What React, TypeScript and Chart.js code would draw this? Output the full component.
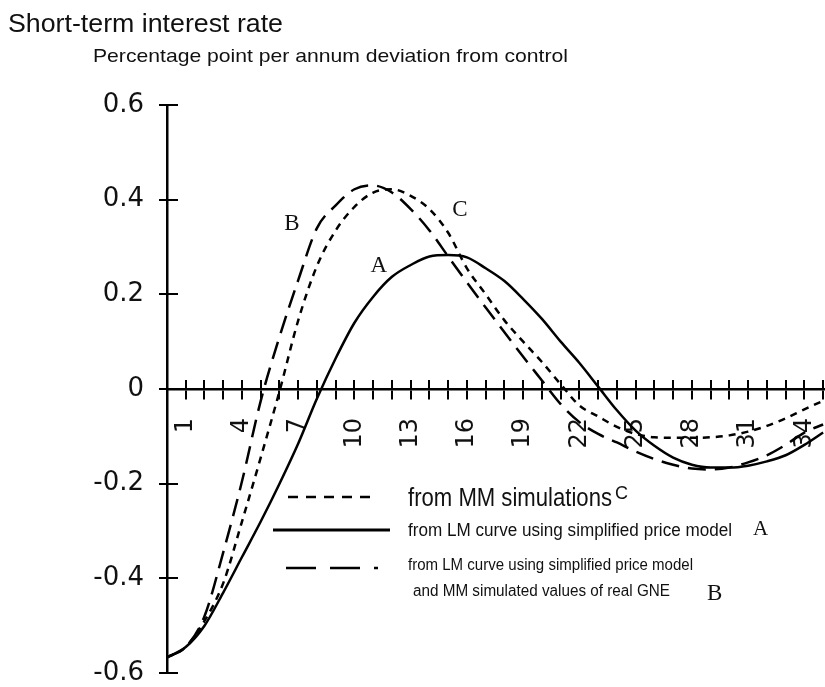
import React, { useEffect, useRef } from "react";
import { Chart, registerables } from "chart.js";

Chart.register(...registerables);

// ---------- data ----------
const periods = [0, 1, 2, 3, 4, 5, 6, 7, 8, 9, 10, 11, 12, 13, 14, 15, 16, 17, 18, 19, 20, 21, 22, 23, 24, 25, 26, 27, 28, 29, 30, 31, 32, 33, 34, 35];

// A: from LM curve using simplified price model (solid)
const seriesA = [-0.567, -0.545, -0.5, -0.43, -0.355, -0.28, -0.2, -0.115, -0.02, 0.065, 0.14, 0.195, 0.237, 0.262, 0.28, 0.283, 0.278, 0.255, 0.228, 0.19, 0.148, 0.1, 0.055, 0.005, -0.045, -0.088, -0.12, -0.145, -0.16, -0.166, -0.166, -0.162, -0.153, -0.14, -0.118, -0.092];

// B: from LM curve using simplified price model and MM simulated values of real GNE (long dash)
const seriesB = [-0.567, -0.545, -0.48, -0.345, -0.195, -0.025, 0.11, 0.23, 0.34, 0.388, 0.422, 0.43, 0.415, 0.38, 0.335, 0.28, 0.225, 0.172, 0.12, 0.068, 0.018, -0.032, -0.07, -0.095, -0.113, -0.132, -0.148, -0.16, -0.168, -0.17, -0.166, -0.155, -0.14, -0.118, -0.092, -0.075];

// C: from MM simulations (short dash)
const seriesC = [-0.567, -0.545, -0.49, -0.41, -0.28, -0.145, -0.005, 0.145, 0.26, 0.335, 0.385, 0.415, 0.422, 0.408, 0.38, 0.33, 0.255, 0.2, 0.145, 0.1, 0.057, 0.01, -0.035, -0.058, -0.08, -0.095, -0.102, -0.103, -0.103, -0.102, -0.098, -0.09, -0.078, -0.062, -0.043, -0.025];

const yTickValues = [-0.6, -0.4, -0.2, 0, 0.2, 0.4, 0.6];
const xTickValues = [1, 2, 3, 4, 5, 6, 7, 8, 9, 10, 11, 12, 13, 14, 15, 16, 17, 18, 19, 20, 21, 22, 23, 24, 25, 26, 27, 28, 29, 30, 31, 32, 33, 34, 35];
const xLabelValues = [1, 4, 7, 10, 13, 16, 19, 22, 25, 28, 31, 34];

const titleText = "Short-term interest rate";
const subtitleText = "Percentage point per annum deviation from control";
const legendTextC = "from MM simulations";
const legendTextA = "from LM curve using simplified price model";
const legendTextB1 = "from LM curve using simplified price model";
const legendTextB2 = "and MM simulated values of real GNE";

// curve tags, placed in data coordinates [period, value]
const curveTags: [string, number, number][] = [
  ["B", 6.67, 0.348],
  ["C", 15.63, 0.378],
  ["A", 11.3, 0.26],
];

const SANS = '"Liberation Sans", Arial, Helvetica, sans-serif';
const SERIF = '"Liberation Serif", "Times New Roman", serif';

function fitText(ctx: CanvasRenderingContext2D, text: string, x: number, y: number, font: string, width?: number) {
  ctx.save();
  ctx.font = font;
  ctx.textAlign = "left";
  ctx.textBaseline = "alphabetic";
  const w = ctx.measureText(text).width;
  const s = width ? width / w : 1;
  ctx.translate(x, y);
  ctx.scale(s, 1);
  ctx.fillText(text, 0, 0);
  ctx.restore();
}

const decorPlugin = {
  id: "decor",
  afterDraw(chart: any) {
    const ctx: CanvasRenderingContext2D = chart.ctx;
    const xs = chart.scales.x;
    const ys = chart.scales.y;
    ctx.save();
    ctx.fillStyle = "#111";
    ctx.strokeStyle = "#000";

    // inner halves of the crossing tick marks
    const y0 = ys.getPixelForValue(0);
    const xAxis = chart.chartArea.left;
    ctx.lineWidth = 2;
    ctx.beginPath();
    xTickValues.forEach((v) => {
      const px = Math.round(xs.getPixelForValue(v));
      ctx.moveTo(px, y0);
      ctx.lineTo(px, y0 - 9);
    });
    yTickValues.forEach((v) => {
      const py = Math.round(ys.getPixelForValue(v));
      ctx.moveTo(xAxis, py);
      ctx.lineTo(xAxis + 11, py);
    });
    ctx.stroke();

    // titles
    fitText(ctx, titleText, 8, 32, `25px ${SANS}`, 275);
    fitText(ctx, subtitleText, 93, 62, `19px ${SANS}`, 475);

    // curve tags
    curveTags.forEach(([t, px, v]) => {
      ctx.save();
      ctx.font = `23px ${SERIF}`;
      ctx.textAlign = "center";
      ctx.textBaseline = "middle";
      ctx.fillText(t, xs.getPixelForValue(px), ys.getPixelForValue(v));
      ctx.restore();
    });

    // legend
    ctx.lineWidth = 2.5;
    ctx.setLineDash([10, 8]);
    ctx.beginPath();
    ctx.moveTo(288, 497);
    ctx.lineTo(378, 497);
    ctx.stroke();

    ctx.setLineDash([]);
    ctx.lineWidth = 3;
    ctx.beginPath();
    ctx.moveTo(273, 530);
    ctx.lineTo(390, 530);
    ctx.stroke();

    ctx.lineWidth = 2.5;
    ctx.setLineDash([30, 14]);
    ctx.beginPath();
    ctx.moveTo(286, 568);
    ctx.lineTo(378, 568);
    ctx.stroke();
    ctx.setLineDash([]);

    fitText(ctx, legendTextC, 408, 506, `26px ${SANS}`, 204);
    fitText(ctx, "C", 615, 499, `18px ${SANS}`);
    fitText(ctx, legendTextA, 408, 536, `18px ${SANS}`, 324);
    fitText(ctx, "A", 753, 535, `21px ${SERIF}`);
    fitText(ctx, legendTextB1, 408, 570, `16px ${SANS}`, 285);
    fitText(ctx, legendTextB2, 413, 596, `16px ${SANS}`, 257);
    fitText(ctx, "B", 707, 600, `23px ${SERIF}`);

    ctx.restore();
  },
};

function toPoints(values: number[]) {
  return periods.map((p, i) => ({ x: p, y: values[i] }));
}

export default function App() {
  const canvasRef = useRef<HTMLCanvasElement | null>(null);

  useEffect(() => {
    const canvas = canvasRef.current;
    if (!canvas) return;
    const chart = new Chart(canvas, {
      type: "line",
      data: {
        datasets: [
          {
            label: "from MM simulations (C)",
            data: toPoints(seriesC),
            borderColor: "#000",
            borderWidth: 2.5,
            borderDash: [7, 6],
            pointRadius: 0,
            cubicInterpolationMode: "monotone",
            fill: false,
          },
          {
            label: "from LM curve using simplified price model (A)",
            data: toPoints(seriesA),
            borderColor: "#000",
            borderWidth: 2.5,
            pointRadius: 0,
            cubicInterpolationMode: "monotone",
            fill: false,
          },
          {
            label: "from LM curve using simplified price model and MM simulated values of real GNE (B)",
            data: toPoints(seriesB),
            borderColor: "#000",
            borderWidth: 2.5,
            borderDash: [18, 9],
            pointRadius: 0,
            cubicInterpolationMode: "monotone",
            fill: false,
          },
        ],
      },
      options: {
        animation: false,
        responsive: false,
        devicePixelRatio: 1,
        layout: { padding: { top: 105, bottom: 14, left: 0, right: 0 } },
        plugins: {
          legend: { display: false },
          title: { display: false },
          tooltip: { enabled: false },
        },
        scales: {
          x: {
            type: "linear",
            min: 0,
            max: 35.1,
            position: { y: 0 } as any,
            afterBuildTicks: (s: any) => {
              s.ticks = xTickValues.map((v) => ({ value: v }));
            },
            afterFit: (s: any) => {
              s.paddingLeft = 0;
              s.paddingRight = 0;
              s.paddingTop = 0;
              s.paddingBottom = 0;
            },
            ticks: {
              autoSkip: false,
              minRotation: 90,
              maxRotation: 90,
              padding: 20,
              color: "#111",
              font: { family: '"DejaVu Sans", sans-serif', size: 24 },
              callback: (v: any) => (xLabelValues.includes(Number(v)) ? String(v) : ""),
            },
            grid: { drawOnChartArea: false, drawTicks: true, tickLength: 9, color: "#000", lineWidth: 2 },
            border: { display: true, color: "#000", width: 2.5 },
          },
          y: {
            type: "linear",
            min: -0.6,
            max: 0.6,
            afterBuildTicks: (s: any) => {
              s.ticks = yTickValues.map((v) => ({ value: v }));
            },
            afterFit: (s: any) => {
              s.width = 167;
              s.paddingTop = 0;
              s.paddingBottom = 0;
            },
            ticks: {
              padding: 15,
              color: "#111",
              font: { family: '"DejaVu Sans", sans-serif', size: 26 },
              callback: (v: any) => (Math.abs(Number(v)) < 1e-9 ? "0" : Number(v).toFixed(1)),
            },
            grid: { drawOnChartArea: false, drawTicks: true, tickLength: 8, color: "#000", lineWidth: 2 },
            border: { display: true, color: "#000", width: 2.5 },
          },
        },
      },
      plugins: [decorPlugin],
    });
    return () => chart.destroy();
  }, []);

  return (
    <div style={{ position: "absolute", left: 0, top: 0, width: 825, height: 687, background: "#fff" }}>
      <canvas ref={canvasRef} width={825} height={687} />
    </div>
  );
}
